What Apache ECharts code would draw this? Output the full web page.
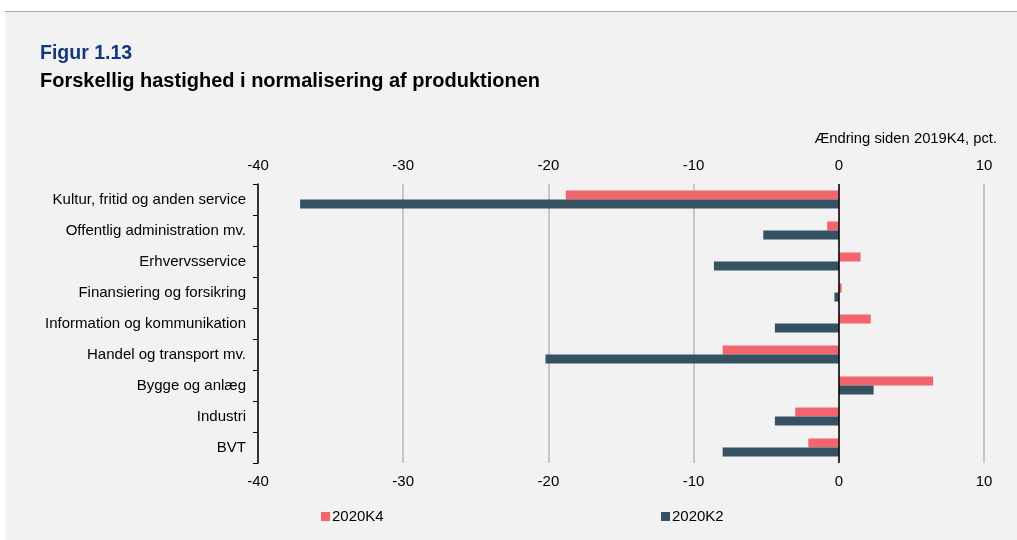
<!DOCTYPE html>
<html><head><meta charset="utf-8">
<script src="https://cdn.jsdelivr.net/npm/echarts@6/dist/echarts.min.js"></script>
<style>
html,body{margin:0;padding:0;background:#fff;}
#wrap{position:absolute;left:5px;top:11px;width:1012px;height:529px;background:#f2f2f2;border-top:1px solid #a6a6a6;}
#chart{position:absolute;left:0;top:0;width:1017px;height:540px;}
</style></head>
<body>
<div id="wrap"></div>
<div id="chart"></div>
<script>
const categories = ['Kultur, fritid og anden service','Offentlig administration mv.','Erhvervsservice','Finansiering og forsikring','Information og kommunikation','Handel og transport mv.','Bygge og anlæg','Industri','BVT'];
const k4 = [-18.8, -0.8, 1.5, 0.2, 2.2, -8.0, 6.5, -3.0, -2.1];
const k2 = [-37.1, -5.2, -8.6, -0.3, -4.4, -20.2, 2.4, -4.4, -8.0];
const seriesNames = ['2020K4','2020K2'];
const xTicks = {min:-40, max:10, interval:10};

const chart = echarts.init(document.getElementById('chart'));
const font = 'Liberation Sans, Arial, sans-serif';
const xAxisBase = {
  type:'value', min:xTicks.min, max:xTicks.max, interval:xTicks.interval,
  axisLine:{show:false}, axisTick:{show:false},
  axisLabel:{color:'#000', fontSize:15, fontFamily:font, margin:11},
};
chart.setOption({
  backgroundColor:'transparent',
  animation:false,
  title:[
    {text:'Figur 1.13', left:35, top:39, textStyle:{color:'#14387f', fontSize:19.5, fontWeight:'bold', fontFamily:font}},
    {text:'Forskellig hastighed i normalisering af produktionen', left:35, top:66, textStyle:{color:'#000', fontSize:20, fontWeight:'bold', fontFamily:font}},
    {text:'Ændring siden 2019K4, pct.', right:15, top:126, textStyle:{color:'#000', fontSize:14.8, fontWeight:'normal', fontFamily:font}}
  ],
  legend:[
    {data:[seriesNames[0]], left:316, top:504, itemWidth:9, itemHeight:9, itemGap:0, icon:'rect', textStyle:{fontSize:15, fontFamily:font, color:'#000', padding:[0,0,0,-3]}},
    {data:[seriesNames[1]], left:656, top:504, itemWidth:9, itemHeight:9, itemGap:0, icon:'rect', textStyle:{fontSize:15, fontFamily:font, color:'#000', padding:[0,0,0,-3]}}
  ],
  grid:{left:258, right:33, top:184, bottom:77},
  xAxis:[
    Object.assign({}, xAxisBase, {position:'bottom', splitLine:{show:true, lineStyle:{color:'#b8b8b8', width:1.5}}}),
    Object.assign({}, xAxisBase, {position:'top', splitLine:{show:false}})
  ],
  yAxis:{
    type:'category', data:categories, inverse:true,
    axisLine:{show:true, onZero:false, lineStyle:{color:'#000', width:1.5}},
    axisTick:{show:true, length:5, lineStyle:{color:'#000'}},
    axisLabel:{color:'#000', fontSize:15, fontFamily:font, margin:12}
  },
  series:[
    {name:seriesNames[0], type:'bar', data:k4, barWidth:9, barGap:'0%', itemStyle:{color:'#f2656c'},
     markLine:{silent:true, symbol:'none', label:{show:false}, lineStyle:{color:'#000', width:1.5, type:'solid'}, data:[{xAxis:0}]}},
    {name:seriesNames[1], type:'bar', data:k2, barWidth:9, barGap:'0%', itemStyle:{color:'#355263'}}
  ]
});
</script>
</body></html>
